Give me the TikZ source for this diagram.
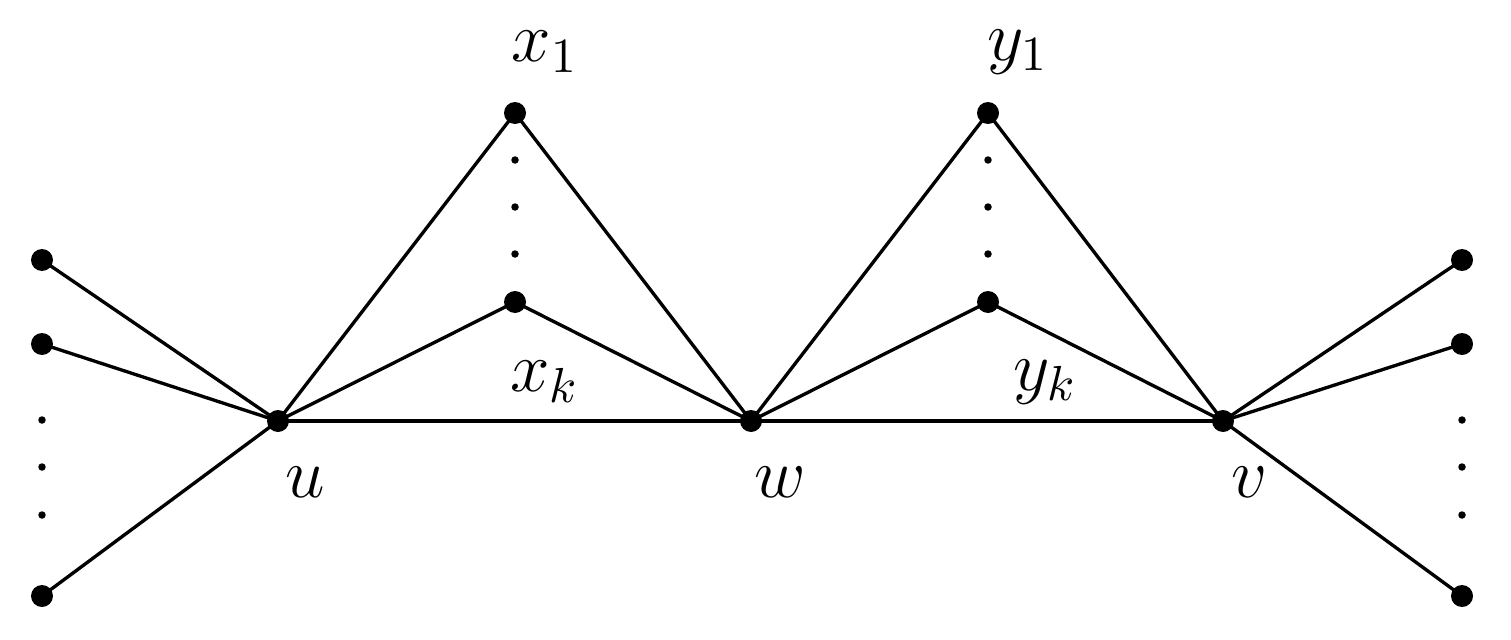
\documentclass[tikz,border=0pt]{standalone}
\usepackage{graphicx}
\newcommand{\biglab}[1]{\scalebox{2.8}{\Large$#1$}}
\begin{document}
\begin{tikzpicture}[x=0.02cm,y=-0.02cm,
  vert/.style={circle,fill=black,inner sep=0pt,minimum size=0.44cm},
  sdot/.style={circle,fill=black,inner sep=0pt,minimum size=0.15cm},
  lab/.style={inner sep=0pt},
  edge/.style={line width=1.9pt}]
\useasboundingbox (0,0) rectangle (1511,639);
\node[vert] (u) at (278,421) {};
\node[vert] (w) at (751,421) {};
\node[vert] (v) at (1223,421) {};
\node[vert] (x1) at (515,113) {};
\node[vert] (xk) at (515,302) {};
\node[vert] (y1) at (988,113) {};
\node[vert] (yk) at (988,302) {};
\node[vert] (l1) at (42,260) {};
\node[vert] (l2) at (42,344) {};
\node[vert] (l3) at (42,596) {};
\node[vert] (r1) at (1462,260) {};
\node[vert] (r2) at (1462,344) {};
\node[vert] (r3) at (1462,596) {};
\foreach \yy [count=\i] in {420,467,515}{
  \node[sdot] (ld\i) at (42,\yy) {};
  \node[sdot] (rd\i) at (1462,\yy) {};}
\foreach \yy [count=\i] in {160,207,254}{
  \node[sdot] (xd\i) at (515,\yy) {};
  \node[sdot] (yd\i) at (988,\yy) {};}
\foreach \a/\b in {u/w,w/v,u/x1,u/xk,x1/w,xk/w,w/y1,w/yk,y1/v,yk/v,l1/u,l2/u,l3/u,v/r1,v/r2,v/r3}
  \draw[edge] (\a.center) -- (\b.center);
\node[lab] (lx1) at (545,52) {\biglab{x_1}};
\node[lab] (lxk) at (545,382) {\biglab{x_k}};
\node[lab] (ly1) at (1018,52) {\biglab{y_1}};
\node[lab] (lyk) at (1045,382) {\biglab{y_k}};
\node[lab] (lu) at (305,482) {\biglab{u}};
\node[lab] (lw) at (780,482) {\biglab{w}};
\node[lab] (lv) at (1250,482) {\biglab{v}};
\end{tikzpicture}
\end{document}
